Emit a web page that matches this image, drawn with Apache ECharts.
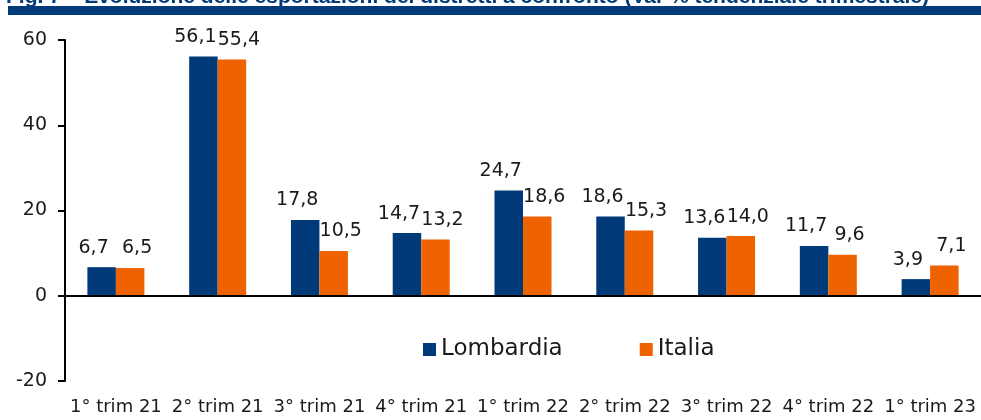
<!DOCTYPE html>
<html>
<head>
<meta charset="utf-8">
<script src="https://cdn.jsdelivr.net/npm/echarts@6/dist/echarts.min.js"></script>
<style>
  html, body { margin: 0; padding: 0; background: #fff; }
  #main { width: 981px; height: 420px; }
</style>
</head>
<body>
<div id="main"></div>
<script>
var categories = ['1° trim 21', '2° trim 21', '3° trim 21', '4° trim 21', '1° trim 22',
                  '2° trim 22', '3° trim 22', '4° trim 22', '1° trim 23'];
var lombardia = [6.7, 56.1, 17.8, 14.7, 24.7, 18.6, 13.6, 11.7, 3.9];
var italia = [6.5, 55.4, 10.5, 13.2, 18.6, 15.3, 14.0, 9.6, 7.1];
var titleText = 'Fig. 7 – Evoluzione delle esportazioni dei distretti a confronto (Var % tendenziale trimestrale)';

var font = 'DejaVu Sans';
var myChart = echarts.init(document.getElementById('main'));

function fmt(p) {
    return p.value.toFixed(1).replace('.', ',');
}

var option = {
    animation: false,
    textStyle: { fontFamily: font },
    graphic: [
        {
            type: 'text',
            left: 6,
            top: -13,
            style: {
                text: titleText,
                font: 'bold 21px "Liberation Sans"',
                fill: '#003a78'
            }
        },
        {
            type: 'rect',
            shape: { x: 8, y: 6, width: 973, height: 9 },
            style: { fill: '#003a78' }
        }
    ],
    legend: {
        left: 418,
        top: 333,
        icon: 'rect',
        itemWidth: 13,
        itemHeight: 13,
        itemGap: 77,
        textStyle: { fontSize: 23, color: '#1a1a1a', fontFamily: font }
    },
    grid: {
        left: 65,
        top: 40,
        width: 920,
        height: 341
    },
    xAxis: {
        type: 'category',
        data: categories,
        axisLine: { show: false, onZero: false },
        axisTick: { show: false },
        axisLabel: { fontSize: 18, color: '#1a1a1a', margin: 17, interval: 0 }
    },
    yAxis: {
        type: 'value',
        min: -20,
        max: 60,
        interval: 20,
        splitLine: { show: false },
        axisLine: { show: true, lineStyle: { color: '#000', width: 2 } },
        axisTick: { show: true, length: 7, lineStyle: { color: '#000', width: 2 } },
        axisLabel: { fontSize: 19, color: '#1a1a1a', margin: 18 }
    },
    series: [
        {
            name: 'Lombardia',
            type: 'bar',
            data: lombardia,
            barWidth: 28.5,
            barGap: '0%',
            itemStyle: { color: '#003a78' },
            label: { show: true, position: 'top', distance: 10, offset: [-8, 0], fontSize: 19, color: '#1a1a1a', formatter: fmt },
            markLine: {
                silent: true,
                symbol: 'none',
                label: { show: false },
                lineStyle: { color: '#000', width: 2, type: 'solid' },
                data: [{ yAxis: 0 }]
            }
        },
        {
            name: 'Italia',
            type: 'bar',
            data: italia,
            barWidth: 28.5,
            barGap: '0%',
            itemStyle: { color: '#ee6300' },
            label: { show: true, position: 'top', distance: 10, offset: [7, 0], fontSize: 19, color: '#1a1a1a', formatter: fmt }
        }
    ]
};

myChart.setOption(option);
</script>
</body>
</html>
